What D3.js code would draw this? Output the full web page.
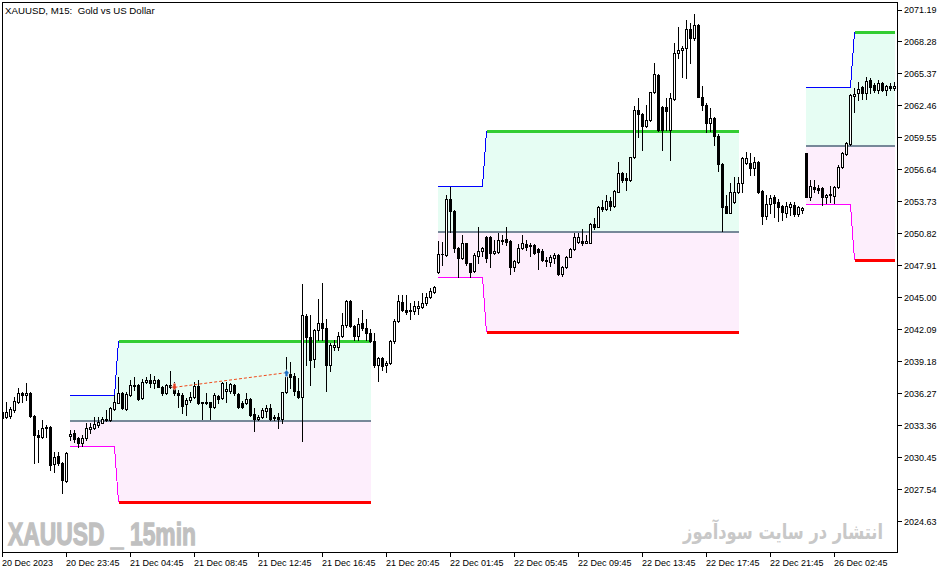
<!DOCTYPE html>
<html><head><meta charset="utf-8">
<script src="https://cdn.jsdelivr.net/npm/d3@7"></script>
<style>body{margin:0;background:#fff;}svg{display:block}</style>
</head><body>
<svg id="c" width="951" height="574"></svg>
<script>
// ---- DATA (XAUUSD M15) ----
const open = [
2034.64,2034.18,2034.24,2034.79,2035.55,2036.31,2036.15,2036.30,2034.24,2032.51,
2032.36,2033.12,2033.27,2029.88,2030.60,2029.94,2028.36,2032.45,2032.70,2032.21,
2031.76,2032.21,2033.03,2033.12,2033.42,2033.63,2033.88,2033.88,2034.85,2035.45,
2036.31,2034.88,2036.15,2037.06,2037.06,2035.85,2037.34,2037.52,2037.27,2037.52,
2036.91,2036.31,2037.06,2036.91,2036.31,2036.20,2035.31,2035.70,2035.95,2036.97,
2035.52,2035.43,2035.52,2035.04,2036.09,2035.85,2036.52,2036.52,2037.06,2036.22,
2035.45,2035.40,2035.82,2034.43,2033.94,2034.13,2034.70,2034.94,2034.03,2034.18,
2033.94,2036.43,2038.04,2037.88,2036.55,2036.00,2043.34,2041.46,2039.40,2042.07,
2042.68,2042.22,2038.88,2040.55,2040.55,2041.55,2042.52,2044.74,2042.43,2041.55,
2042.68,2042.28,2041.77,2041.07,2038.88,2039.49,2038.88,2039.09,2041.07,2042.89,
2044.65,2043.89,2043.77,2043.80,2044.10,2044.14,2044.50,2045.05,2045.56,2047.32,
2048.95,2048.89,2053.99,2052.93,2049.50,2048.59,2049.99,2048.14,2047.44,2048.80,
2049.26,2050.53,2050.51,2049.05,2049.20,2050.26,2050.35,2050.17,2047.83,2048.29,
2049.50,2049.87,2049.71,2049.80,2049.41,2049.29,2048.44,2048.29,2048.59,2048.89,
2047.14,2047.78,2048.74,2049.44,2050.11,2050.17,2050.01,2050.01,2051.69,2051.47,
2053.29,2053.05,2053.81,2053.38,2054.66,2056.33,2055.86,2055.72,2057.79,2062.09,
2061.70,2060.66,2061.18,2063.70,2065.27,2062.39,2062.34,2060.27,2063.06,2067.25,
2067.55,2067.70,2069.43,2068.61,2069.78,2063.30,2062.54,2060.93,2061.33,2059.70,
2057.18,2053.35,2052.74,2053.75,2054.66,2055.42,2057.24,2057.24,2056.78,2057.39,
2054.72,2052.44,2053.51,2054.20,2053.75,2053.35,2052.74,2053.29,2053.44,2052.63,
2052.99,2058.15,2054.15,2055.11,2054.96,2054.96,2054.20,2054.35,2054.26,2055.06,
2056.93,2058.09,2059.00,2063.39,2063.61,2064.16,2063.61,2064.82,2064.36,2063.91,
2064.52,2063.91,2064.25,2064.06];
const high = [
2034.97,2035.49,2035.09,2036.00,2036.76,2036.46,2037.29,2036.40,2034.33,2032.97,
2033.88,2033.42,2033.35,2031.00,2031.00,2030.09,2031.00,2032.97,2032.97,2032.36,
2032.51,2033.58,2033.58,2034.18,2034.18,2034.18,2034.79,2035.09,2036.15,2037.82,
2036.46,2036.46,2037.52,2037.77,2037.16,2037.58,2037.82,2038.04,2037.88,2037.61,
2036.97,2037.13,2038.37,2037.37,2036.61,2036.31,2035.85,2036.46,2037.37,2037.52,
2035.55,2036.31,2035.55,2036.31,2036.15,2037.37,2037.37,2037.22,2037.16,2036.31,
2035.64,2036.31,2035.85,2034.94,2034.33,2035.00,2035.24,2035.34,2034.33,2034.49,
2036.46,2039.64,2039.19,2038.13,2037.70,2046.26,2043.53,2043.43,2042.16,2044.89,
2046.32,2043.04,2040.86,2041.16,2041.92,2043.64,2044.80,2044.80,2042.52,2043.13,
2043.89,2043.04,2042.16,2041.82,2039.59,2039.64,2039.28,2041.16,2043.04,2045.25,
2045.25,2045.25,2044.50,2044.71,2044.74,2045.41,2045.41,2045.92,2046.07,2050.17,
2050.08,2054.35,2055.11,2052.99,2049.65,2050.71,2050.01,2048.19,2049.05,2051.42,
2049.65,2050.65,2050.62,2050.26,2050.92,2050.71,2051.40,2050.26,2048.44,2049.90,
2050.71,2050.26,2049.99,2049.87,2049.50,2049.41,2048.74,2048.89,2049.10,2048.99,
2047.89,2048.80,2049.50,2050.92,2050.87,2051.23,2050.71,2051.78,2052.23,2053.35,
2053.90,2054.35,2054.20,2054.81,2057.36,2056.42,2056.33,2057.84,2062.45,2063.15,
2061.79,2062.54,2063.76,2066.37,2065.34,2062.45,2063.15,2063.61,2068.16,2069.64,
2067.94,2070.28,2069.98,2070.83,2069.90,2064.27,2062.70,2062.24,2061.48,2059.88,
2057.24,2054.35,2055.42,2056.02,2056.02,2057.84,2058.30,2058.20,2057.84,2057.48,
2054.81,2054.35,2054.35,2054.35,2053.96,2053.44,2053.75,2053.75,2053.75,2053.35,
2053.29,2058.20,2055.72,2055.72,2055.26,2055.11,2054.42,2055.17,2055.17,2057.08,
2058.30,2059.21,2063.55,2064.06,2064.67,2064.27,2065.12,2064.97,2064.57,2064.82,
2064.67,2064.36,2064.52,2064.67];
const low = [
2033.88,2034.03,2034.03,2034.64,2035.40,2035.55,2035.70,2034.18,2029.99,2030.09,
2032.21,2032.36,2029.33,2029.18,2029.78,2027.26,2028.27,2032.06,2031.91,2031.45,
2031.51,2032.06,2032.67,2033.03,2033.27,2033.58,2033.82,2033.82,2034.79,2035.40,
2034.85,2034.79,2036.06,2036.61,2035.70,2035.79,2037.22,2036.91,2036.76,2036.86,
2036.15,2036.22,2036.76,2036.15,2035.09,2034.54,2034.33,2035.55,2035.85,2035.34,
2033.94,2035.34,2033.94,2034.94,2035.40,2035.76,2035.55,2036.36,2036.15,2035.00,
2034.94,2035.34,2034.24,2032.91,2033.88,2034.03,2034.13,2033.88,2033.88,2033.12,
2033.58,2036.31,2036.79,2036.15,2035.88,2032.00,2038.88,2037.06,2038.70,2041.16,
2041.16,2036.55,2038.37,2040.25,2040.25,2041.46,2042.37,2042.37,2041.16,2041.16,
2042.07,2041.16,2040.95,2038.73,2037.46,2038.43,2038.22,2038.98,2040.86,2042.77,
2043.83,2043.53,2043.04,2043.53,2043.53,2044.04,2044.34,2044.95,2045.46,2047.23,
2047.98,2048.83,2051.02,2049.20,2046.92,2048.53,2047.98,2046.92,2047.38,2048.19,
2048.80,2048.29,2047.83,2048.99,2049.05,2049.90,2049.85,2047.14,2047.47,2048.14,
2049.41,2049.35,2048.80,2048.99,2047.59,2048.38,2047.89,2047.89,2048.14,2047.07,
2046.98,2047.68,2048.69,2049.35,2049.96,2049.80,2049.96,2049.96,2051.26,2051.42,
2052.93,2052.99,2052.99,2053.29,2054.66,2055.57,2054.81,2055.65,2057.69,2059.66,
2058.45,2060.57,2061.09,2063.61,2060.21,2058.45,2060.27,2057.54,2063.00,2066.79,
2065.12,2065.00,2066.34,2068.46,2063.25,2062.09,2060.12,2060.18,2058.90,2056.57,
2051.11,2052.69,2052.69,2053.60,2054.56,2054.66,2057.18,2056.17,2056.17,2054.56,
2051.69,2052.14,2052.72,2052.38,2052.02,2052.08,2052.38,2052.53,2052.44,2052.44,
2052.69,2054.15,2053.90,2054.66,2054.51,2053.44,2053.60,2053.75,2053.65,2054.96,
2056.78,2057.99,2058.90,2061.94,2063.00,2063.06,2063.06,2063.61,2063.76,2063.66,
2063.85,2063.45,2063.91,2063.91];
const close = [
2034.03,2034.64,2034.85,2035.64,2036.31,2036.15,2036.36,2034.24,2032.51,2032.36,
2033.12,2033.27,2029.78,2030.54,2029.94,2028.42,2030.85,2032.58,2032.12,2031.76,
2032.21,2033.12,2033.27,2033.52,2033.73,2033.94,2033.94,2034.94,2035.55,2036.31,
2034.94,2036.25,2037.06,2036.97,2035.76,2037.37,2037.52,2037.27,2037.52,2036.91,
2036.31,2037.06,2036.91,2036.31,2036.20,2035.15,2035.70,2036.00,2036.97,2035.40,
2035.43,2035.49,2035.04,2036.13,2035.79,2037.22,2036.70,2037.13,2036.31,2035.09,
2035.09,2035.82,2034.33,2033.94,2034.18,2034.79,2034.94,2033.94,2034.18,2033.94,
2036.43,2038.04,2037.79,2036.55,2036.00,2043.43,2041.46,2039.34,2042.07,2042.68,
2042.22,2038.88,2040.70,2040.70,2041.55,2042.52,2044.74,2042.43,2041.55,2042.59,
2042.28,2041.77,2041.10,2038.88,2039.49,2038.79,2039.04,2041.07,2042.89,2044.71,
2043.89,2043.68,2043.89,2044.25,2044.25,2044.55,2045.10,2045.62,2046.01,2048.99,
2049.03,2053.99,2052.93,2049.50,2048.59,2049.99,2048.14,2047.38,2048.89,2049.26,
2049.53,2048.62,2049.05,2049.26,2050.26,2050.21,2050.08,2047.83,2048.35,2049.50,
2049.96,2049.65,2049.85,2049.10,2049.20,2048.44,2048.35,2048.69,2048.89,2047.14,
2047.78,2048.69,2049.44,2050.56,2050.51,2050.01,2050.17,2051.72,2051.47,2053.29,
2053.05,2053.81,2053.38,2054.72,2056.33,2055.69,2055.72,2057.79,2062.09,2061.70,
2060.66,2061.18,2063.70,2065.34,2060.27,2060.27,2062.03,2063.15,2067.30,2067.55,
2067.70,2069.43,2068.64,2069.82,2063.30,2062.54,2060.93,2061.33,2059.70,2057.18,
2053.29,2052.74,2054.66,2054.66,2055.42,2057.69,2057.69,2056.78,2057.39,2054.66,
2052.44,2053.51,2054.05,2053.60,2053.29,2052.84,2053.35,2053.54,2052.63,2053.24,
2053.14,2054.20,2055.17,2054.90,2054.81,2054.20,2054.35,2054.47,2055.06,2056.88,
2058.15,2059.06,2063.45,2063.55,2063.97,2063.61,2064.76,2064.21,2063.91,2064.52,
2063.91,2064.25,2064.06,2064.27];

// session range zones (bar index of start / end)
const zoneStart = [17, 109, 201];
const zoneEnd   = [92, 184, 223];
const initBars  = 12;                       // bars using the initial range
const rangeHigh0 = [2036.07, 2055.13, 2064.16];  // blue
const rangeHigh  = [2041.07, 2060.15, 2069.16];  // green
const rangeMid   = [2033.79, 2050.99, 2058.84];  // gray
const rangeLow0  = [2031.43, 2046.87, 2053.45];  // magenta
const rangeLow   = [2026.42, 2041.86, 2048.44];  // red

// trade marks
const tradeBars   = [43, 71];
const tradePrices = [2036.86, 2038.19];

// axes
const yTicks = [2024.63,2027.54,2030.45,2033.36,2036.27,2039.18,2042.09,2045.00,2047.91,
                2050.82,2053.73,2056.64,2059.55,2062.46,2065.37,2068.28,2071.19];
const xTickBars = [0,16,32,48,64,80,96,112,128,144,160,176,192,208];
const xTickLabels = ["20 Dec 2023","20 Dec 23:45","21 Dec 04:45","21 Dec 08:45","21 Dec 12:45",
  "21 Dec 16:45","21 Dec 20:45","22 Dec 01:45","22 Dec 05:45","22 Dec 09:45","22 Dec 13:45",
  "22 Dec 17:45","22 Dec 21:45","26 Dec 02:45"];

// ---- DRAW ----
const FONT = "'Liberation Sans', Arial, sans-serif";
const svg = d3.select('#c');
const x = d3.scaleLinear().domain([0, open.length - 1]).range([2.5, 894.5]);
const y = d3.scaleLinear().domain([2024.63, 2071.19]).range([521.7, 10]);

svg.append('defs').append('clipPath').attr('id', 'clip')
  .append('rect').attr('x', 3).attr('y', 3).attr('width', 894).attr('height', 549);
const g = svg.append('g').attr('clip-path', 'url(#clip)');

// watermarks
g.append('text').attr('x', 8).attr('y', 545)
  .attr('font-family', "'Liberation Sans Narrow','Liberation Sans',Arial,sans-serif")
  .attr('font-weight', 'bold').attr('font-size', 32).attr('fill', '#c0c0c0')
  .attr('stroke', '#c0c0c0').attr('stroke-width', 1.3)
  .attr('textLength', 188).attr('lengthAdjust', 'spacingAndGlyphs')
  .text('XAUUSD _ 15min');
const fa = g.append('text').attr('x', 0).attr('y', 0).attr('text-anchor', 'end')
  .attr('font-family', "'DejaVu Sans',sans-serif").attr('font-weight', 'bold')
  .attr('font-size', 21).attr('fill', '#c8c8c8')
  .text('انتشار در سایت سودآموز');
const faLen = fa.node().getComputedTextLength() || 200;
fa.attr('transform', `translate(883,539) scale(${(200 / faLen).toFixed(4)},1)`);

const zones = zoneStart.map((s, i) => ({
  s, e: zoneEnd[i], h0: rangeHigh0[i], h: rangeHigh[i], m: rangeMid[i], l0: rangeLow0[i], l: rangeLow[i]
}));

const zoneG = g.append('g');
const lineG = g.append('g').attr('fill', 'none').attr('shape-rendering', 'crispEdges');

zones.forEach(z => {
  const pts = d3.range(z.s, z.e + 1).map(k => ({
    k, up: k < z.s + initBars ? z.h0 : z.h, dn: k < z.s + initBars ? z.l0 : z.l
  }));
  const ext = [{k: z.s - 0.125, up: z.h0, dn: z.l0}, ...pts, {k: z.e + 0.2, up: z.h, dn: z.l}];
  zoneG.append('path').datum(ext).attr('fill', '#e6fdf3').attr('shape-rendering', 'crispEdges')
    .attr('d', d3.area().x(d => x(d.k)).y0(y(z.m)).y1(d => y(d.up)));
  zoneG.append('path').datum(ext).attr('fill', '#fdeefc').attr('shape-rendering', 'crispEdges')
    .attr('d', d3.area().x(d => x(d.k)).y0(y(z.m)).y1(d => y(d.dn)));
  z.ext = ext;
});

// candles
const cg = g.append('g').attr('shape-rendering', 'crispEdges');
open.forEach((o, i) => {
  const c = close[i], hi = high[i], lo = low[i];
  const xc = x(i);
  const yH = Math.round(y(hi)), yL = Math.round(y(lo));
  const yT = Math.round(y(Math.max(o, c))), yB = Math.round(y(Math.min(o, c)));
  cg.append('rect').attr('x', xc - 0.5).attr('y', yH).attr('width', 1)
    .attr('height', Math.max(1, yL - yH + 1)).attr('fill', '#000');
  const bh = Math.max(1, yB - yT + 1);
  cg.append('rect').attr('x', xc - 1.5).attr('y', yT).attr('width', 3).attr('height', bh).attr('fill', '#000');
  if (c >= o && bh > 2)
    cg.append('rect').attr('x', xc - 0.5).attr('y', yT + 1).attr('width', 1).attr('height', bh - 2).attr('fill', '#fff');
});

// zone lines
const lUp = d3.line().x(d => x(d.k)).y(d => y(d.up));
const lDn = d3.line().x(d => x(d.k)).y(d => y(d.dn));
zones.forEach(z => {
  const first = z.ext.filter(d => d.k <= z.s + initBars);
  const second = z.ext.filter(d => d.k >= z.s + initBars);
  lineG.append('path').datum([{k: z.s - 0.125}, {k: z.e + 0.2}])
    .attr('d', d3.line().x(d => x(d.k)).y(() => y(z.m))).attr('stroke', '#778899').attr('stroke-width', 2);
  lineG.append('path').datum(first).attr('d', lUp).attr('stroke', '#0000ff').attr('stroke-width', 1);
  lineG.append('path').datum(first).attr('d', lDn).attr('stroke', '#ff00ff').attr('stroke-width', 1);
  lineG.append('path').datum(second).attr('d', lUp).attr('stroke', '#32cd32').attr('stroke-width', 3);
  lineG.append('path').datum(second).attr('d', lDn).attr('stroke', '#ff0000').attr('stroke-width', 3);
});

// trade line and marks
const tr = tradeBars.map((b, i) => ({b, p: tradePrices[i]}));
g.append('path').datum(tr).attr('fill', 'none').attr('stroke', '#f04a1a').attr('stroke-width', 1)
  .attr('stroke-dasharray', '3,2').attr('d', d3.line().x(d => x(d.b)).y(d => y(d.p)));
const down = 'M-1.5,-4H1.5V-1H3.5L0,3L-3.5,-1H-1.5Z';
const up = 'M-1.5,4H1.5V1H3.5L0,-3L-3.5,1H-1.5Z';
g.selectAll('.mk').data(tr).join('path')
  .attr('transform', d => `translate(${x(d.b)},${y(d.p)})`)
  .attr('d', (d, i) => i === 0 ? down : up)
  .attr('fill', (d, i) => i === 0 ? '#e04020' : '#1c6ec0')
  .attr('stroke', '#fff').attr('stroke-width', 0.6);

// title
svg.append('text').attr('x', 5).attr('y', 13.5).attr('font-family', FONT).attr('font-size', 9.7)
  .attr('fill', '#000').style('white-space', 'pre').text('XAUUSD, M15:  Gold vs US Dollar');

// frame
svg.append('rect').attr('x', 2.5).attr('y', 2.5).attr('width', 895).attr('height', 550)
  .attr('fill', 'none').attr('stroke', '#000').attr('stroke-width', 1).attr('shape-rendering', 'crispEdges');

// right price axis
const ya = svg.append('g').attr('transform', 'translate(897.5,0)')
  .call(d3.axisRight(y).tickValues(yTicks).tickSize(4).tickPadding(2.5).offset(0).tickFormat(d3.format('.2f')));
ya.select('.domain').remove();
ya.selectAll('line').attr('stroke', '#000').attr('shape-rendering', 'crispEdges');
ya.selectAll('text').attr('font-family', FONT).attr('font-size', 9).attr('fill', '#000');

// bottom time axis
const xa = svg.append('g').attr('transform', 'translate(0,552.5)')
  .call(d3.axisBottom(x).tickValues(xTickBars).tickSize(4).tickPadding(3).offset(0)
    .tickFormat((d, i) => xTickLabels[i]));
xa.select('.domain').remove();
xa.selectAll('line').attr('stroke', '#000').attr('shape-rendering', 'crispEdges');
xa.selectAll('text').attr('font-family', FONT).attr('font-size', 9).attr('fill', '#000')
  .attr('text-anchor', 'start').attr('x', -0.5);
</script>
</body></html>
